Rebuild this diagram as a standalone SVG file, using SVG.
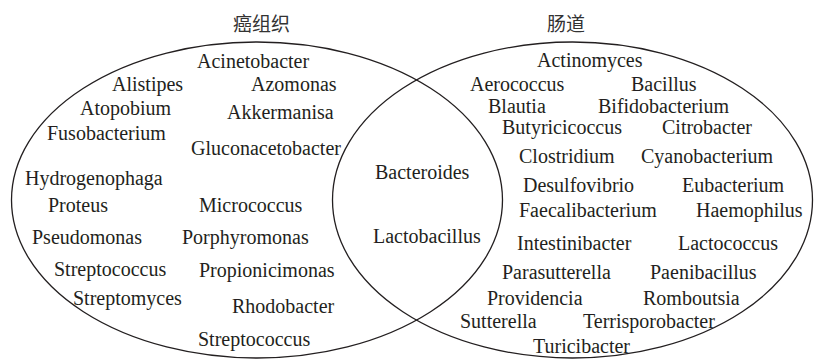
<svg xmlns="http://www.w3.org/2000/svg" width="815" height="360" viewBox="0 0 815 360">
<style>
.t{font-family:"Liberation Serif","Times New Roman",serif;font-size:20px;fill:#231f20}
.h{font-family:"Noto Sans CJK SC","Noto Sans",sans-serif;font-size:19px;fill:#333}
.e{fill:none;stroke:#231f20;stroke-width:1.3}
</style>
<rect width="815" height="360" fill="#fff"/>
<g id="sets">
<ellipse id="tumor" class="e" cx="257" cy="200" rx="245.5" ry="158"/>
<ellipse id="gut" class="e" cx="572.5" cy="200" rx="240" ry="158"/>
</g>
<g id="titles">
<text class="h" x="233" y="31">癌组织</text>
<text class="h" x="547" y="31">肠道</text>
</g>
<g id="left">
<text class="t" x="197" y="68">Acinetobacter</text>
<text class="t" x="112" y="91">Alistipes</text>
<text class="t" x="251" y="91">Azomonas</text>
<text class="t" x="80" y="115">Atopobium</text>
<text class="t" x="227" y="119">Akkermanisa</text>
<text class="t" x="47" y="140">Fusobacterium</text>
<text class="t" x="191" y="155">Gluconacetobacter</text>
<text class="t" x="25" y="185">Hydrogenophaga</text>
<text class="t" x="48" y="212">Proteus</text>
<text class="t" x="199" y="212">Micrococcus</text>
<text class="t" x="32" y="244">Pseudomonas</text>
<text class="t" x="182" y="244">Porphyromonas</text>
<text class="t" x="54" y="276">Streptococcus</text>
<text class="t" x="199" y="277">Propionicimonas</text>
<text class="t" x="73" y="305">Streptomyces</text>
<text class="t" x="232" y="313">Rhodobacter</text>
<text class="t" x="198" y="346">Streptococcus</text>
</g>
<g id="both">
<text class="t" x="375" y="179">Bacteroides</text>
<text class="t" x="373" y="243">Lactobacillus</text>
</g>
<g id="right">
<text class="t" x="537" y="67">Actinomyces</text>
<text class="t" x="470" y="91">Aerococcus</text>
<text class="t" x="631" y="91">Bacillus</text>
<text class="t" x="488" y="113">Blautia</text>
<text class="t" x="598" y="113">Bifidobacterium</text>
<text class="t" x="502" y="134">Butyricicoccus</text>
<text class="t" x="662" y="134">Citrobacter</text>
<text class="t" x="519" y="163">Clostridium</text>
<text class="t" x="641" y="163">Cyanobacterium</text>
<text class="t" x="523" y="192">Desulfovibrio</text>
<text class="t" x="682" y="192">Eubacterium</text>
<text class="t" x="519" y="217">Faecalibacterium</text>
<text class="t" x="696" y="217">Haemophilus</text>
<text class="t" x="517" y="250">Intestinibacter</text>
<text class="t" x="678" y="250">Lactococcus</text>
<text class="t" x="502" y="279">Parasutterella</text>
<text class="t" x="650" y="279">Paenibacillus</text>
<text class="t" x="487" y="305">Providencia</text>
<text class="t" x="643" y="305">Romboutsia</text>
<text class="t" x="460" y="328">Sutterella</text>
<text class="t" x="583" y="328">Terrisporobacter</text>
<text class="t" x="533" y="353">Turicibacter</text>
</g>
</svg>
